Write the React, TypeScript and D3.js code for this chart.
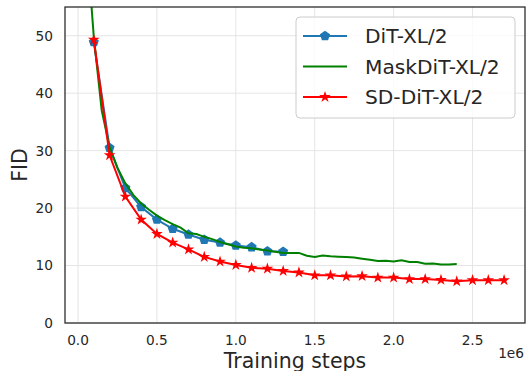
import React from 'react'
import * as d3 from 'd3'

// training steps (in units of 1e6) and FID values
const ditSteps = [0.1, 0.2, 0.3, 0.4, 0.5, 0.6, 0.7, 0.8, 0.9, 1.0, 1.1, 1.2, 1.3]
const ditFid = [48.9, 30.5, 23.5, 20.2, 18.0, 16.4, 15.4, 14.5, 14.0, 13.5, 13.2, 12.5, 12.4]

const maskSteps = [
  0.05, 0.1, 0.15, 0.2, 0.25, 0.3, 0.35, 0.4, 0.45, 0.5, 0.55, 0.6, 0.65, 0.7, 0.75, 0.8,
  0.85, 0.9, 0.95, 1.0, 1.05, 1.1, 1.15, 1.2, 1.25, 1.3, 1.35, 1.4, 1.45, 1.5, 1.55, 1.6,
  1.65, 1.7, 1.75, 1.8, 1.85, 1.9, 1.95, 2.0, 2.05, 2.1, 2.15, 2.2, 2.25, 2.3, 2.35, 2.4,
]
const maskFid = [
  68, 49.8, 37, 30.6, 27, 24.3, 22.3, 20.8, 19.7, 18.7, 17.9, 17.2, 16.6, 15.6, 15.5, 15.0,
  14.6, 14.1, 13.7, 13.3, 13.1, 13.0, 12.8, 12.6, 12.4, 12.2, 12.2, 12.2, 11.7, 11.5, 11.75, 11.6,
  11.55, 11.5, 11.4, 11.2, 11.0, 10.8, 10.85, 10.7, 10.9, 10.6, 10.6, 10.3, 10.35, 10.2, 10.2, 10.25,
]

const sdSteps = [
  0.1, 0.2, 0.3, 0.4, 0.5, 0.6, 0.7, 0.8, 0.9, 1.0, 1.1, 1.2, 1.3, 1.4,
  1.5, 1.6, 1.7, 1.8, 1.9, 2.0, 2.1, 2.2, 2.3, 2.4, 2.5, 2.6, 2.7,
]
const sdFid = [
  49.3, 29.2, 22.0, 18.0, 15.5, 14.0, 12.8, 11.5, 10.7, 10.1, 9.6, 9.45, 9.05, 8.8,
  8.3, 8.3, 8.1, 8.15, 7.9, 7.9, 7.65, 7.65, 7.5, 7.25, 7.45, 7.45, 7.45,
]

const xTicks = [0, 0.5, 1.0, 1.5, 2.0, 2.5]
const yTicks = [0, 10, 20, 30, 40, 50]
const seriesNames = ['DiT-XL/2', 'MaskDiT-XL/2', 'SD-DiT-XL/2']

const W = 526
const H = 371
const margin = { top: 7, right: 1, bottom: 48, left: 65 }
const FONT = 'DejaVu Sans, sans-serif'
const TEXT = '#262626'

// matplotlib-ish pentagon marker
const pentPath = (r: number) => {
  const pts = d3.range(5).map(k => {
    const a = -Math.PI / 2 + (k * 2 * Math.PI) / 5
    return [r * Math.cos(a), r * Math.sin(a)]
  })
  return 'M' + pts.map(p => p.join(',')).join('L') + 'Z'
}

export default function App() {
  const iw = W - margin.left - margin.right
  const ih = H - margin.top - margin.bottom

  const x = d3.scaleLinear().domain([-0.0825, 2.8325]).range([0, iw])
  const y = d3.scaleLinear().domain([0, 55]).range([ih, 0])

  const line = d3.line<[number, number]>()
    .x(d => x(d[0]))
    .y(d => y(d[1]))

  const dit = ditSteps.map((s, i) => [s, ditFid[i]] as [number, number])
  const mask = maskSteps.map((s, i) => [s, maskFid[i]] as [number, number])
  const sd = sdSteps.map((s, i) => [s, sdFid[i]] as [number, number])

  const starPath = d3.symbol(d3.symbolStar, 42)() ?? ''
  const pent = pentPath(5.3)

  const blue = '#1f77b4'
  const green = 'green'
  const red = 'red'

  return (
    <svg width={W} height={H} style={{ position: 'absolute', left: 0, top: 0 }} fontFamily={FONT}>
      <rect width={W} height={H} fill="white" />
      <defs>
        <clipPath id="plot-area">
          <rect width={iw} height={ih} />
        </clipPath>
      </defs>
      <g transform={`translate(${margin.left},${margin.top})`}>
        {/* grid */}
        {xTicks.map(t => (
          <line key={'gx' + t} x1={x(t)} x2={x(t)} y1={0} y2={ih} stroke="#e5e5e5" strokeWidth={1} />
        ))}
        {yTicks.map(t => (
          <line key={'gy' + t} x1={0} x2={iw} y1={y(t)} y2={y(t)} stroke="#e5e5e5" strokeWidth={1} />
        ))}

        <g clipPath="url(#plot-area)">
          <path d={line(dit) ?? ''} fill="none" stroke={blue} strokeWidth={2} />
          {dit.map((d, i) => (
            <path key={'db' + i} d={pent} transform={`translate(${x(d[0])},${y(d[1])})`} fill={blue} />
          ))}
          <path d={line(mask) ?? ''} fill="none" stroke={green} strokeWidth={2} />
          <path d={line(sd) ?? ''} fill="none" stroke={red} strokeWidth={2} />
          {sd.map((d, i) => (
            <path key={'sr' + i} d={starPath} transform={`translate(${x(d[0])},${y(d[1])})`} fill={red} />
          ))}
        </g>

        {/* frame */}
        <rect width={iw} height={ih} fill="none" stroke={TEXT} strokeWidth={1.25} />

        {/* ticks */}
        {xTicks.map(t => (
          <text key={'tx' + t} x={x(t)} y={ih + 22} textAnchor="middle" fontSize={13.7} fill={TEXT}>
            {t.toFixed(1)}
          </text>
        ))}
        {yTicks.map(t => (
          <text key={'ty' + t} x={-12} y={y(t)} dy="0.36em" textAnchor="end" fontSize={13.7} fill={TEXT}>
            {t}
          </text>
        ))}
        <text x={iw - 1} y={ih + 35} textAnchor="end" fontSize={13.7} fill={TEXT}>1e6</text>
        <text x={iw / 2} y={ih + 45} textAnchor="middle" fontSize={20.5} fill={TEXT}>Training steps</text>
        <text transform={`translate(${-38},${ih / 2}) rotate(-90)`} textAnchor="middle" fontSize={20.5} fill={TEXT}>FID</text>
      </g>

      {/* legend */}
      <g transform="translate(296,17)">
        <rect width={219} height={101} rx={4} fill="white" fillOpacity={0.8} stroke="#cccccc" />
        {seriesNames.map((name, i) => {
          const cy = 19 + i * 30.5
          const col = [blue, green, red][i]
          return (
            <g key={name} transform={`translate(0,${cy})`}>
              <line x1={7} x2={51} y1={0} y2={0} stroke={col} strokeWidth={2} />
              {i === 0 && <path d={pent} transform="translate(29,0)" fill={blue} />}
              {i === 2 && <path d={starPath} transform="translate(29,0)" fill={red} />}
              <text x={69} y={0} dy="0.36em" fontSize={20.2} fill={TEXT}>{name}</text>
            </g>
          )
        })}
      </g>
    </svg>
  )
}
